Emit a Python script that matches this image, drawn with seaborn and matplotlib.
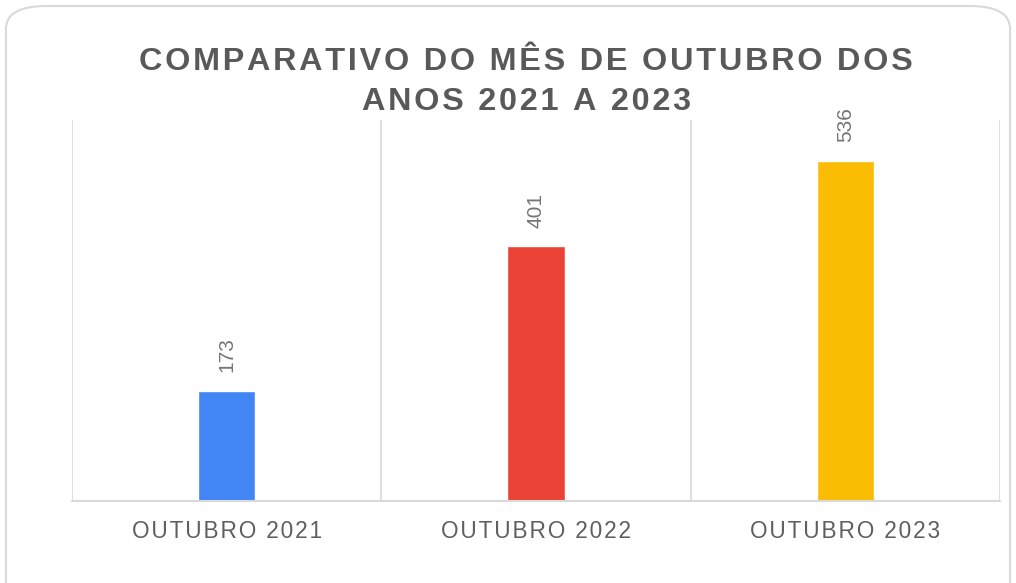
import matplotlib
matplotlib.use("Agg")
import matplotlib.pyplot as plt
import seaborn as sns
import pandas as pd
from matplotlib.patches import FancyBboxPatch

categorias = ["OUTUBRO 2021", "OUTUBRO 2022", "OUTUBRO 2023"]
valores = [173, 401, 536]
cores = ["#4285F4", "#EA4335", "#FBBC04"]
titulo = ["COMPARATIVO DO MÊS DE OUTUBRO DOS", "ANOS 2021 A 2023"]


def espacado(s):
    # letter spacing via hair spaces
    return "\u200a".join(s)


sns.set_theme(style="white")
plt.rcParams["font.family"] = ["Liberation Sans", "DejaVu Sans"]

df = pd.DataFrame({"mes": categorias, "valor": valores})

fig = plt.figure(figsize=(10.16, 5.83), dpi=100)
ax = fig.add_axes([72 / 1016, 1 - 501 / 583, 928 / 1016, 381 / 583])

sns.barplot(data=df, x="mes", y="valor", hue="mes", palette=cores,
            width=0.185, legend=False, saturation=1, ax=ax)

ax.set_xlim(-0.5, 2.5)
ax.set_ylim(0, 600)
ax.set_xlabel("")
ax.set_ylabel("")
ax.set_yticks([])
ax.set_xticks(range(len(categorias)))
ax.set_xticklabels([espacado(c) for c in categorias], fontsize=16.3, color="#5f5f5f")
ax.tick_params(axis="x", length=0, pad=14)

for s in ["top", "left", "right"]:
    ax.spines[s].set_visible(False)
ax.spines["bottom"].set_color("#d9d9d9")
ax.spines["bottom"].set_linewidth(1.5)

for xv in [-0.5, 0.5, 1.5, 2.5]:
    ax.axvline(xv, color="#d9d9d9", lw=1.2, zorder=0)

for i, v in enumerate(valores):
    ax.annotate(str(v), (i, v), xytext=(0, 13.5), textcoords="offset points",
                rotation=90, ha="center", va="bottom", fontsize=15, color="#757575")

fig.text(0.518, 1 - 62 / 583, espacado(titulo[0]), ha="center", va="center",
         fontsize=23.3, fontweight="bold", color="#595959")
fig.text(0.518, 1 - 102 / 583, espacado(titulo[1]), ha="center", va="center",
         fontsize=23.3, fontweight="bold", color="#595959")

borda = FancyBboxPatch((6 / 1016, -0.2), 1004 / 1016, 1.2 - 6 / 583,
                       boxstyle="round,pad=0,rounding_size=0.04",
                       transform=fig.transFigure, fill=False,
                       edgecolor="#d9d9d9", lw=1.5, mutation_aspect=583 / 1016 * 1.7)
fig.patches.append(borda)

fig.savefig("out.png", dpi=100)
